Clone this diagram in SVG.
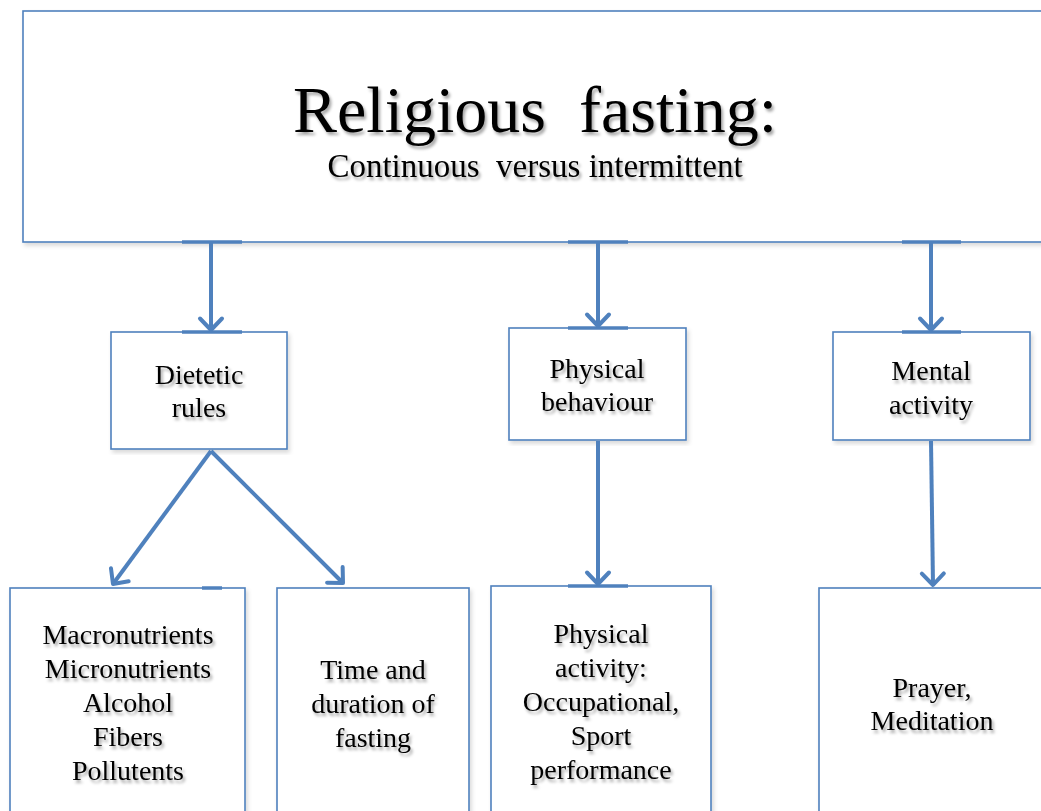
<svg xmlns="http://www.w3.org/2000/svg" width="1041" height="811" viewBox="0 0 1041 811">
  <defs>
    <filter id="ts" x="-10%" y="-20%" width="130%" height="150%">
      <feDropShadow dx="2" dy="3" stdDeviation="1.6" flood-color="#000" flood-opacity="0.35"/>
    </filter>
    <filter id="bs" x="-5%" y="-5%" width="110%" height="110%">
      <feDropShadow dx="2" dy="3" stdDeviation="2" flood-color="#000" flood-opacity="0.15"/>
    </filter>
    <marker id="ah" markerUnits="userSpaceOnUse" viewBox="-16 -14 20 28" markerWidth="20" markerHeight="28" refX="0" refY="0" orient="auto" overflow="visible">
      <path d="M-11.5,-11 L0,0 L-11.5,11" fill="none" stroke="#4f81bd" stroke-width="4" stroke-linecap="round" stroke-linejoin="round"/>
    </marker>
  </defs>
  <style>
    .box { fill: #ffffff; stroke: #4f81bd; stroke-width: 1.6; filter: url(#bs); }
    .tab { stroke: #4f81bd; stroke-width: 3.5; }
    .conn { stroke: #4f81bd; stroke-width: 4; fill: none; marker-end: url(#ah); }
    text { font-family: "Liberation Serif", "Times New Roman", serif; fill: #000; text-anchor: middle; filter: url(#ts); }
    .t1 { font-size: 66px; }
    .t2 { font-size: 33px; }
    .t3 { font-size: 28px; }
  </style>
  <rect width="1041" height="811" fill="#ffffff"/>

  <g id="title">
    <rect class="box" x="23" y="11" width="1030" height="231"/>
    <text class="t1" x="535" y="132" xml:space="preserve">Religious  fasting:</text>
    <text class="t2" x="535" y="177" xml:space="preserve">Continuous  versus intermittent</text>
    <line class="tab" x1="182" y1="242" x2="242" y2="242"/>
    <line class="tab" x1="568" y1="242" x2="628" y2="242"/>
    <line class="tab" x1="902" y1="242" x2="961" y2="242"/>
  </g>

  <g id="dietetic">
    <rect class="box" x="111" y="332" width="176" height="117"/>
    <line class="tab" x1="182" y1="332" x2="242" y2="332"/>
    <text class="t3" x="199" y="384">Dietetic</text>
    <text class="t3" x="199" y="417">rules</text>
  </g>

  <g id="physical">
    <rect class="box" x="509" y="328" width="177" height="112"/>
    <line class="tab" x1="568" y1="328" x2="628" y2="328"/>
    <text class="t3" x="597" y="378">Physical</text>
    <text class="t3" x="597" y="411">behaviour</text>
  </g>

  <g id="mental">
    <rect class="box" x="833" y="332" width="197" height="108"/>
    <line class="tab" x1="902" y1="332" x2="961" y2="332"/>
    <text class="t3" x="931" y="380">Mental</text>
    <text class="t3" x="931" y="414">activity</text>
  </g>

  <g id="nutrients">
    <rect class="box" x="10" y="588" width="235" height="240"/>
    <line class="tab" x1="202" y1="588" x2="222" y2="588"/>
    <text class="t3" x="128" y="644">Macronutrients</text>
    <text class="t3" x="128" y="678">Micronutrients</text>
    <text class="t3" x="128" y="712">Alcohol</text>
    <text class="t3" x="128" y="746">Fibers</text>
    <text class="t3" x="128" y="780">Pollutents</text>
  </g>

  <g id="timing">
    <rect class="box" x="277" y="588" width="192" height="240"/>
    <text class="t3" x="373" y="679">Time and</text>
    <text class="t3" x="373" y="713">duration of</text>
    <text class="t3" x="373" y="747">fasting</text>
  </g>

  <g id="activity">
    <rect class="box" x="491" y="586" width="220" height="240"/>
    <line class="tab" x1="568" y1="586" x2="628" y2="586"/>
    <text class="t3" x="601" y="643">Physical</text>
    <text class="t3" x="601" y="677">activity:</text>
    <text class="t3" x="601" y="711">Occupational,</text>
    <text class="t3" x="601" y="745">Sport</text>
    <text class="t3" x="601" y="779">performance</text>
  </g>

  <g id="prayer">
    <rect class="box" x="819" y="588" width="240" height="240"/>
    <text class="t3" x="932" y="697">Prayer,</text>
    <text class="t3" x="932" y="730">Meditation</text>
  </g>

  <g id="connectors">
    <line class="conn" x1="211" y1="243" x2="211" y2="330"/>
    <line class="conn" x1="598" y1="243" x2="598" y2="326"/>
    <line class="conn" x1="931" y1="243" x2="931" y2="330"/>
    <line class="conn" x1="211" y1="451" x2="113" y2="584"/>
    <line class="conn" x1="211" y1="451" x2="343" y2="583"/>
    <line class="conn" x1="598" y1="441" x2="598" y2="584"/>
    <line class="conn" x1="931" y1="441" x2="933" y2="585"/>
  </g>
</svg>
